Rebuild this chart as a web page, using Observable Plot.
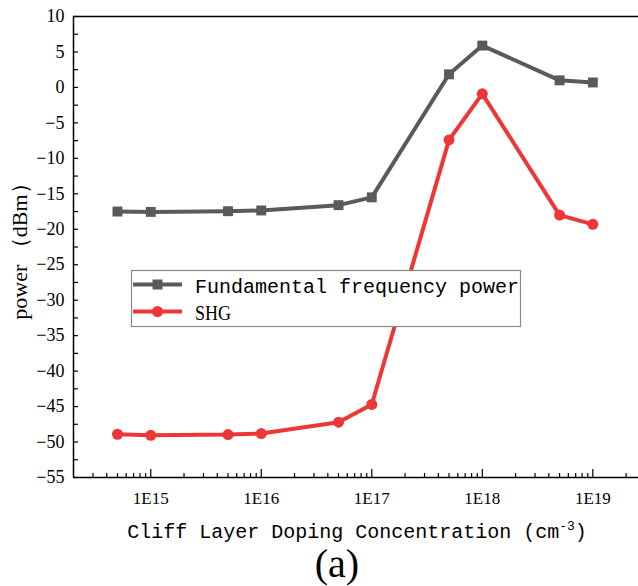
<!DOCTYPE html>
<html>
<head>
<meta charset="utf-8">
<script src="https://cdn.jsdelivr.net/npm/d3@7"></script>
<script src="https://cdn.jsdelivr.net/npm/@observablehq/plot@0.6"></script>
<style>
  html, body { margin: 0; padding: 0; background: white; }
</style>
</head>
<body>
<div id="chart"></div>
<script>
// ---- data ----
const doping = [5e14, 1e15, 5e15, 1e16, 5e16, 1e17, 5e17, 1e18, 5e18, 1e19];
const fundamental = [-17.5, -17.55, -17.45, -17.35, -16.6, -15.5, 1.85, 5.9, 1.0, 0.7];
const shg = [-48.9, -49.05, -48.95, -48.8, -47.2, -44.7, -7.4, -0.9, -18.0, -19.3];
const seriesNames = ["Fundamental frequency power", "SHG"];
const xMajorTicks = [1e15, 1e16, 1e17, 1e18, 1e19];
const xTickLabels = ["1E15", "1E16", "1E17", "1E18", "1E19"];
const yMajorTicks = [-55, -50, -45, -40, -35, -30, -25, -20, -15, -10, -5, 0, 5, 10];
const yMinorTicks = [-52.5, -47.5, -42.5, -37.5, -32.5, -27.5, -22.5, -17.5, -12.5, -7.5, -2.5, 2.5, 7.5];
const xDomain = [2e14, 2.59e19];
const yDomain = [-55, 10];

const fundData = doping.map((x, i) => ({x, y: fundamental[i]}));
const shgData = doping.map((x, i) => ({x, y: shg[i]}));
const xMinorTicks = [];
for (let e = 14; e <= 19; e++) for (let m = 2; m <= 9; m++) {
  const v = m * Math.pow(10, e);
  if (v > xDomain[0] && v < xDomain[1]) xMinorTicks.push(v);
}

const W = 638, H = 586;
const mL = 73, mR = 0, mT = 16, mB = 109;
const frameH = H - mT - mB, frameW = W - mL - mR;
const grayC = "#5a5a5a", redC = "#ef3636";
const minus = d => d < 0 ? "\u2212" + Math.abs(d) : String(d);

const svg = Plot.plot({
  width: W, height: H,
  marginLeft: mL, marginRight: mR, marginTop: mT, marginBottom: mB,
  style: {fontFamily: "Liberation Serif", fontSize: "18px", color: "black", background: "white"},
  x: {type: "log", domain: xDomain},
  y: {domain: yDomain},
  marks: [
    Plot.ruleY([yDomain[1]], {stroke: "black", strokeWidth: 1.5}),
    Plot.ruleY([yDomain[0]], {stroke: "black", strokeWidth: 1.5}),
    Plot.ruleX([xDomain[0]], {stroke: "black", strokeWidth: 1.5}),
    Plot.tickX(xMinorTicks, {x: d => d, stroke: "black", strokeWidth: 1.2, insetTop: frameH - 4}),
    Plot.tickX(xMajorTicks, {x: d => d, stroke: "black", strokeWidth: 1.2, insetTop: frameH - 8}),
    Plot.tickY(yMinorTicks, {y: d => d, stroke: "black", strokeWidth: 1.2, insetRight: frameW - 5}),
    Plot.tickY(yMajorTicks, {y: d => d, stroke: "black", strokeWidth: 1.2, insetRight: frameW - 5}),
    Plot.axisY({ticks: yMajorTicks, tickSize: 0, tickPadding: 9, tickFormat: minus, label: null,
      fontSize: 18, fill: "black"}),
    Plot.axisX({ticks: xMajorTicks, tickSize: 0, tickPadding: 14, fontSize: 17, fill: "black",
      tickFormat: d => xTickLabels[xMajorTicks.indexOf(d)], label: null}),
    Plot.line(fundData, {x: "x", y: "y", stroke: grayC, strokeWidth: 4}),
    Plot.dot(fundData, {x: "x", y: "y", symbol: "square", r: 5.6, fill: grayC}),
    Plot.line(shgData, {x: "x", y: "y", stroke: redC, strokeWidth: 4}),
    Plot.dot(shgData, {x: "x", y: "y", symbol: "circle", r: 5.5, fill: redC})
  ]
});

const s = d3.select(svg);

// legend
const lg = s.append("g").attr("text-anchor", "start");
lg.append("rect").attr("x", 131.5).attr("y", 270.5).attr("width", 389).attr("height", 56)
  .attr("fill", "white").attr("stroke", "#8a8a8a").attr("stroke-width", 1.2);
const rows = [
  {name: seriesNames[0], color: grayC, sym: "square", y: 284.5, font: "Liberation Mono", size: 20},
  {name: seriesNames[1], color: redC, sym: "circle", y: 311.5, font: "Liberation Serif", size: 21}
];
rows.forEach(r => {
  lg.append("line").attr("x1", 133).attr("x2", 182).attr("y1", r.y).attr("y2", r.y)
    .attr("stroke", r.color).attr("stroke-width", 4);
  if (r.sym === "square") {
    lg.append("rect").attr("x", 157.5 - 5).attr("y", r.y - 5).attr("width", 10).attr("height", 10).attr("fill", r.color);
  } else {
    lg.append("circle").attr("cx", 157.5).attr("cy", r.y).attr("r", 5.5).attr("fill", r.color);
  }
  const t = lg.append("text").attr("x", 195).attr("y", r.y + 8).attr("text-anchor", "start")
    .attr("font-family", r.font).attr("font-size", r.size).attr("fill", "black").text(r.name);
  if (r.sym === "circle") t.attr("textLength", 36).attr("lengthAdjust", "spacingAndGlyphs");
});

// y label
s.append("text").attr("transform", "translate(27,246) rotate(-90)")
  .attr("text-anchor", "middle").attr("font-family", "Liberation Serif").attr("font-size", 22)
  .attr("fill", "black").text("power \uFF08dBm\uFF09");

// x label with superscript
const xl = s.append("text").attr("x", 357).attr("y", 538).attr("text-anchor", "middle")
  .attr("font-family", "Liberation Mono").attr("font-size", 20).attr("fill", "black");
xl.append("tspan").text("Cliff Layer Doping Concentration (cm");
xl.append("tspan").attr("font-size", 13).attr("dy", -8).text("-3");
xl.append("tspan").attr("dy", 8).text(")");

// panel label
s.append("text").attr("x", 337).attr("y", 577).attr("text-anchor", "middle")
  .attr("font-family", "Liberation Serif").attr("font-size", 40).attr("fill", "black").text("(a)");

document.getElementById("chart").appendChild(svg);
</script>
</body>
</html>
